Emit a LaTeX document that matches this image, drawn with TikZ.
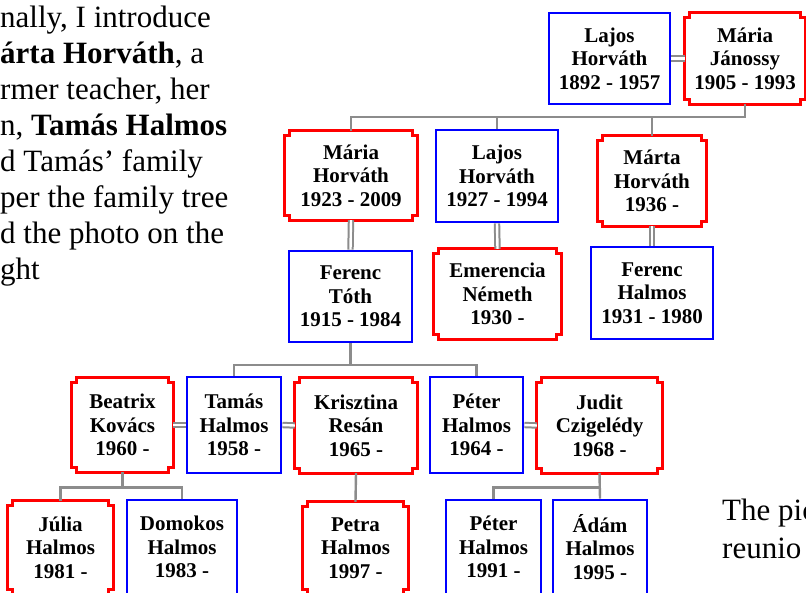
\documentclass[tikz,border=0pt]{standalone}
\usepackage{fontspec}
\setmainfont{Liberation Serif}
\usepackage{xcolor}
\usepackage{tikz}

\begin{document}
\begin{tikzpicture}[x=1pt, y=-1pt,
  person/.style={inner sep=0pt, align=center, font=\fontsize{21}{23.5}\selectfont\bfseries},
  man/.style={person, draw=blue, line width=2.8pt},
  woman/.style={person, append after command={\pgfextra{
      \draw[red, line width=2.8pt]
        ([xshift=5pt]\tikzlastnode.north west) -- ([xshift=-5pt]\tikzlastnode.north east)
        -- ++(0pt,-5pt) -- ++(5pt,0pt) -- ([yshift=5pt]\tikzlastnode.south east)
        -- ++(-5pt,0pt) -- ++(0pt,-5pt) -- ([xshift=5pt]\tikzlastnode.south west)
        -- ++(0pt,5pt) -- ++(-5pt,0pt) -- ([yshift=-5pt]\tikzlastnode.north west)
        -- ++(5pt,0pt) -- cycle;}}},
  couple/.style={draw=black!45, line width=2pt, double=white, double distance=2.4pt},
  kid/.style={draw=black!45, line width=2.4pt}]
  \useasboundingbox (0,0) rectangle (806,592);
  \fill[white] (0,0) rectangle (806,592);

  % multi-line nodes sit on their last baseline
  \node[anchor=base west, inner sep=0pt, align=left, font=\fontsize{31}{36}\selectfont] (intro) at (0,279)
    {nally, I introduce\\\textbf{árta Horváth}, a\\rmer teacher, her\\n, \textbf{Tamás Halmos}\\d Tamás’ family\\per the family tree\\d the photo on the\\ght};
  \node[anchor=base west, inner sep=0pt, align=left, font=\fontsize{31}{38}\selectfont] (caption) at (722,558)
    {The pic\\reunio};

  % grandparents
  \node[man, minimum width=121pt, minimum height=91pt] (lajosA) at (609.5,58.5) {Lajos\\Horváth\\1892 - 1957};
  \node[woman, minimum width=120pt, minimum height=91pt] (jan) at (745,58.5) {Mária\\Jánossy\\1905 - 1993};
  % their children
  \node[woman, minimum width=132pt, minimum height=89pt] (mariaH) at (351,175.5) {Mária\\Horváth\\1923 - 2009};
  \node[man, minimum width=122pt, minimum height=92pt] (lajosB) at (497,176) {Lajos\\Horváth\\1927 - 1994};
  \node[woman, minimum width=108pt, minimum height=90pt] (marta) at (652,181) {Márta\\Horváth\\1936 -};
  \node[man, minimum width=123pt, minimum height=91pt] (ferencT) at (350.5,296.5) {Ferenc\\Tóth\\1915 - 1984};
  \node[woman, minimum width=127pt, minimum height=90pt] (emer) at (497.5,294) {Emerencia\\Németh\\1930 -};
  \node[man, minimum width=122pt, minimum height=92pt] (ferencH) at (652,293) {Ferenc\\Halmos\\1931 - 1980};
  % grandchildren
  \node[woman, minimum width=101pt, minimum height=94pt] (beatrix) at (122.5,425) {Beatrix\\Kovács\\1960 -};
  \node[man, minimum width=94pt, minimum height=96pt] (tamas) at (234,425) {Tamás\\Halmos\\1958 -};
  \node[woman, minimum width=122pt, minimum height=95pt] (kriszt) at (356,425.5) {Krisztina\\Resán\\1965 -};
  \node[man, minimum width=93pt, minimum height=96pt] (peterA) at (476.5,425) {Péter\\Halmos\\1964 -};
  \node[woman, minimum width=125pt, minimum height=95pt] (judit) at (599.5,425.5) {Judit\\Czigelédy\\1968 -};
  % great-grandchildren
  \node[woman, minimum width=105pt, minimum height=93pt] (julia) at (60.5,547.5) {Júlia\\Halmos\\1981 -};
  \node[man, minimum width=110pt, minimum height=94pt] (domokos) at (182,547) {Domokos\\Halmos\\1983 -};
  \node[woman, minimum width=105pt, minimum height=92pt] (petra) at (355.5,548) {Petra\\Halmos\\1997 -};
  \node[man, minimum width=95pt, minimum height=94pt] (peterB) at (493.5,547) {Péter\\Halmos\\1991 -};
  \node[man, minimum width=94pt, minimum height=94pt] (adam) at (600,547) {Ádám\\Halmos\\1995 -};

  \coordinate (bar1) at (0,117);
  \coordinate (bar2) at (0,365);
  \coordinate (bar3) at (0,487.5);

  \draw[couple] (lajosA.east) -- (jan.west);
  \draw[couple] (mariaH.south) -- (ferencT.north);
  \draw[couple] (lajosB.south) -- (emer.north);
  \draw[couple] (marta.south) -- (ferencH.north);
  \draw[couple] (beatrix.east) -- (tamas.west);
  \draw[couple] (tamas.east) -- (kriszt.west);
  \draw[couple] (peterA.east) -- (judit.west);

  \draw[kid] (jan.south) |- (bar1 -| mariaH.north) -- (mariaH.north);
  \draw[kid] (lajosB.north) -- (lajosB.north |- bar1);
  \draw[kid] (marta.north) -- (marta.north |- bar1);
  \draw[kid] (ferencT.south) -- (ferencT.south |- bar2);
  \draw[kid] (tamas.north) |- (bar2 -| peterA.north) -- (peterA.north);
  \draw[kid] (beatrix.south) -- (beatrix.south |- bar3);
  \draw[kid] (julia.north) |- (bar3 -| domokos.north) -- (domokos.north);
  \draw[kid] (kriszt.south) -- (petra.north);
  \draw[kid] (judit.south) -- (adam.north);
  \draw[kid] (peterB.north) |- (bar3 -| adam.north);
\end{tikzpicture}
\end{document}
